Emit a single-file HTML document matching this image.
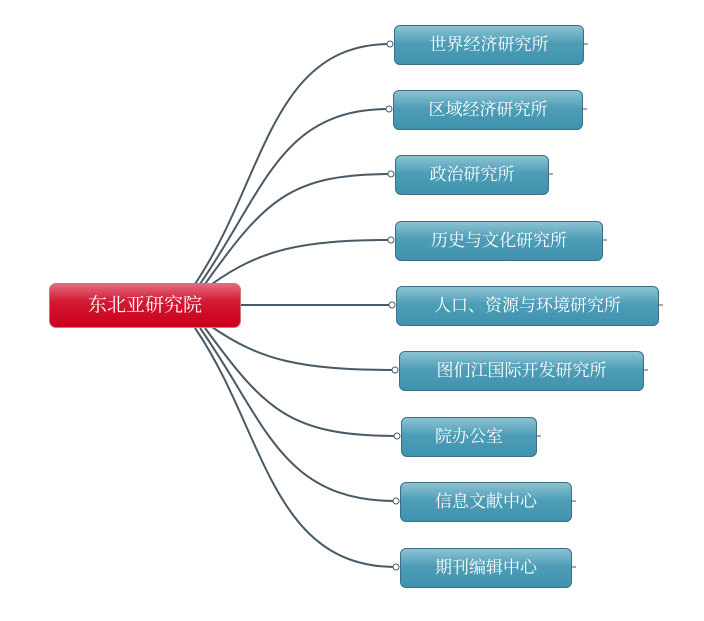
<!DOCTYPE html>
<html><head><meta charset="utf-8"><style>
body{margin:0;background:#fff;width:704px;height:621px;position:relative;overflow:hidden;font-family:"Liberation Serif","Noto Serif CJK SC",serif}
.n{position:absolute;height:40px;border:1px solid #3d6f84;border-radius:6px;background:linear-gradient(#8cc3d3 0%,#4e9db7 45%,#3f93ae 100%);color:#fff;font-size:17px;line-height:38px;text-align:center;box-sizing:border-box}
.r{position:absolute;left:49px;top:283px;width:192px;height:45px;border-radius:7px;border:1px solid #c77;background:linear-gradient(#e26b7d 0%,#d41a35 40%,#c8001b 100%);color:#fff;font-size:19px;line-height:43px;text-align:center;box-sizing:border-box}
</style></head><body>
<svg width="704" height="621" style="position:absolute;left:0;top:0" fill="none" stroke="#4a5966" stroke-width="2">
<path d="M195 284 C265 180,270 44,390 44"/>
<path d="M200 284 C265 190,280 109,389 109"/>
<path d="M205 284 C265 200,290 174,391 174"/>
<path d="M212 284 C260 250,300 240,391 240"/>
<path d="M241 305 L392 305"/>
<path d="M212 327 C260 360,300 370,395 370"/>
<path d="M205 328 C265 410,290 436,397 436"/>
<path d="M200 328 C265 420,280 501,396 501"/>
<path d="M195 328 C265 430,270 567,396 567"/>
<g stroke-width="1">
<path d="M584 44h4M583 109h4M549 174h4M603 240h4M659 305h4M644 370h4M537 436h4M572 501h4M572 567h4"/>
</g>
<g fill="#fff" stroke-width="1">
<circle cx="390" cy="44" r="3"/><circle cx="389" cy="109" r="3"/><circle cx="391" cy="174" r="3"/><circle cx="391" cy="240" r="3"/><circle cx="392" cy="305" r="3"/><circle cx="395" cy="370" r="3"/><circle cx="397" cy="436" r="3"/><circle cx="396" cy="501" r="3"/><circle cx="396" cy="567" r="3"/>
</g>
</svg>
<div class="r">东北亚研究院</div>
<div class="n" style="left:394px;top:25px;width:190px">世界经济研究所</div>
<div class="n" style="left:393px;top:90px;width:190px">区域经济研究所</div>
<div class="n" style="left:395px;top:155px;width:154px">政治研究所</div>
<div class="n" style="left:395px;top:221px;width:208px">历史与文化研究所</div>
<div class="n" style="left:396px;top:286px;width:263px">人口、资源与环境研究所</div>
<div class="n" style="left:399px;top:351px;width:245px">图们江国际开发研究所</div>
<div class="n" style="left:401px;top:417px;width:136px">院办公室</div>
<div class="n" style="left:400px;top:482px;width:172px">信息文献中心</div>
<div class="n" style="left:400px;top:548px;width:172px">期刊编辑中心</div>
</body></html>
